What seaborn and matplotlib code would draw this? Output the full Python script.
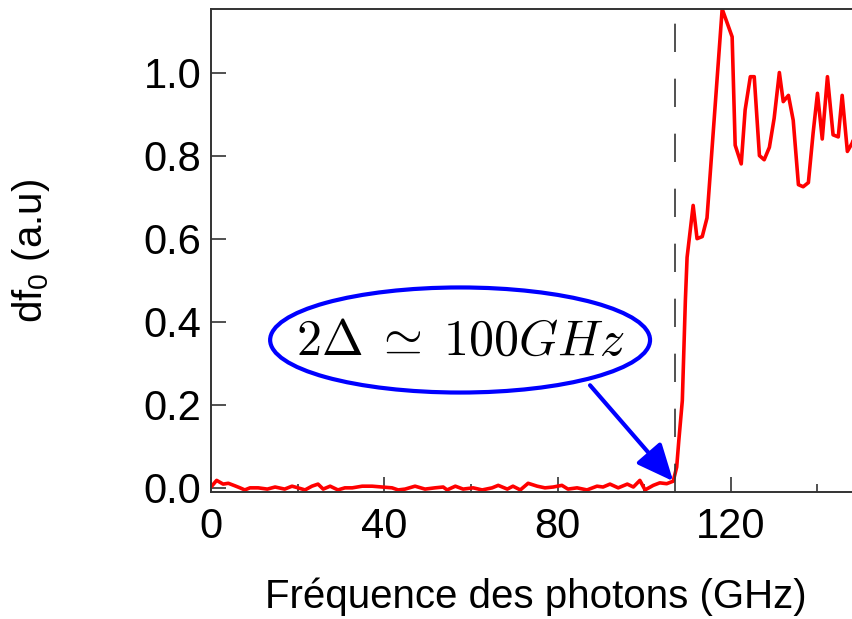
import matplotlib
matplotlib.use('Agg')

import matplotlib.pyplot as plt
from matplotlib.patches import Ellipse
from matplotlib.ticker import MultipleLocator
import seaborn as sb
import pandas as pd

# photon frequency (GHz) and df0 (a.u)
freq = [0, 1.3, 2.8, 4, 5.5, 6.7, 7.8, 9, 10.9, 13, 14.8, 17, 18.7, 20.1, 21.7,
        23.3, 24.7, 25.9, 27.5, 29.3, 30.9, 32.6, 34.9, 37.2, 39.5, 41.8, 43.2,
        44.8, 47.1, 49.4, 51.7, 53.6, 54.5, 56.4, 58.2, 60.5, 62.6, 64.9, 66.3,
        68.4, 69.7, 71.4, 73.2, 75.3, 77.1, 79, 81, 82.4, 84.5, 86.8, 89.1, 90.5,
        92.1, 94, 96.1, 97.5, 99, 100.2, 102.1, 103.6, 105.2, 106.7,
        107.5, 108.0, 108.8, 109.5, 109.9, 111.3, 112.2, 113.4, 114.5, 118.0,
        120.3, 121.0, 122.4, 123.3, 124.5, 125.4, 126.6, 127.7, 128.9, 130.0,
        131.2, 132.1, 133.3, 134.4, 135.6, 136.7, 137.9, 139.0, 140.0, 141.1,
        142.3, 143.6, 144.8, 145.7, 146.9, 148.0, 149.0]
df0 = [0.002, 0.018, 0.009, 0.011, 0.005, 0.0, -0.005, 0.0, 0.0, -0.003, 0.002,
       -0.003, 0.004, 0.0, -0.005, 0.004, 0.009, -0.003, 0.004, -0.005, 0.0, 0.0,
       0.004, 0.004, 0.002, 0.0, -0.005, -0.003, 0.004, -0.003, 0.0, 0.002,
       -0.005, 0.004, -0.003, 0.0, -0.005, 0.0, 0.006, -0.003, 0.004, -0.005,
       0.011, 0.004, 0.0, 0.002, 0.006, -0.003, 0.0, -0.005, 0.004, 0.002, 0.009,
       0.0, 0.009, 0.002, 0.018, -0.005, 0.006, 0.012, 0.010, 0.016,
       0.05, 0.115, 0.21, 0.45, 0.555, 0.68, 0.60, 0.605, 0.65, 1.153,
       1.086, 0.825, 0.78, 0.91, 0.99, 0.99, 0.80, 0.79, 0.82, 0.89,
       1.00, 0.93, 0.945, 0.885, 0.73, 0.725, 0.735, 0.855, 0.95, 0.84,
       0.99, 0.85, 0.845, 0.945, 0.81, 0.83, 0.86]

gap_freq = 107        # dashed marker
gap_label = r'$2\Delta \;\simeq\; 100GHz$'
arrow_tip = (106.7, 0.016)
arrow_tail = (87.5, 0.247)

df = pd.DataFrame({'freq': freq, 'df0': df0})

sb.set_style('ticks')
plt.rcParams['font.family'] = ['Liberation Sans', 'DejaVu Sans']
plt.rcParams['text.color'] = 'black'
plt.rcParams['mathtext.fontset'] = 'custom'
plt.rcParams['mathtext.rm'] = 'Liberation Sans'
plt.rcParams['mathtext.it'] = 'Liberation Sans:italic'

fig = plt.figure(figsize=(8.53, 6.19), dpi=100)
ax = fig.add_axes([211/853, 1 - 492/619, 642/853, 483/619])

sb.lineplot(data=df, x='freq', y='df0', color='red', lw=2.6, ax=ax, sort=False)
ax.axvline(gap_freq, color='#333333', lw=1.2, linestyle=(0, (17, 16)))

ax.add_patch(Ellipse((57.5, 0.356), 87.7, 0.253, fc='white', ec='blue', lw=3, zorder=4))
ax.text(57.5, 0.352, gap_label, ha='center', va='center', fontsize=36,
        color='black', math_fontfamily='cm', zorder=5)
ax.annotate('', xy=arrow_tip, xytext=arrow_tail, zorder=5,
            arrowprops=dict(arrowstyle='-|>,head_length=0.45,head_width=0.2',
                            color='blue', lw=3, mutation_scale=50,
                            shrinkA=0, shrinkB=0))

ax.set_xlim(0, 148.2)
ax.set_ylim(-0.01, 1.153)
ax.xaxis.set_major_locator(MultipleLocator(40))
ax.xaxis.set_minor_locator(MultipleLocator(20))
ax.yaxis.set_major_locator(MultipleLocator(0.2))
ax.yaxis.set_major_formatter(plt.FormatStrFormatter('%.1f'))
ax.tick_params(axis='both', which='both', direction='in', width=1.2, colors='#333333',
               labelcolor='black', labelsize=30)
ax.tick_params(axis='both', which='major', length=11)
ax.tick_params(axis='x', which='minor', length=6)
ax.tick_params(axis='x', pad=11)
ax.tick_params(axis='y', pad=7)
for side in ['left', 'bottom', 'top']:
    ax.spines[side].set_color('#333333')
    ax.spines[side].set_linewidth(1.4)
ax.spines['right'].set_visible(False)

ax.set_xlabel('Fréquence des photons (GHz)', fontsize=29, color='black')
ax.set_ylabel(r'df$_0$ (a.u)', fontsize=29, color='black')
ax.xaxis.set_label_coords(0.506, -0.176)
ax.yaxis.set_label_coords(-0.247, 0.5)

plt.savefig('out.png', dpi=100)
